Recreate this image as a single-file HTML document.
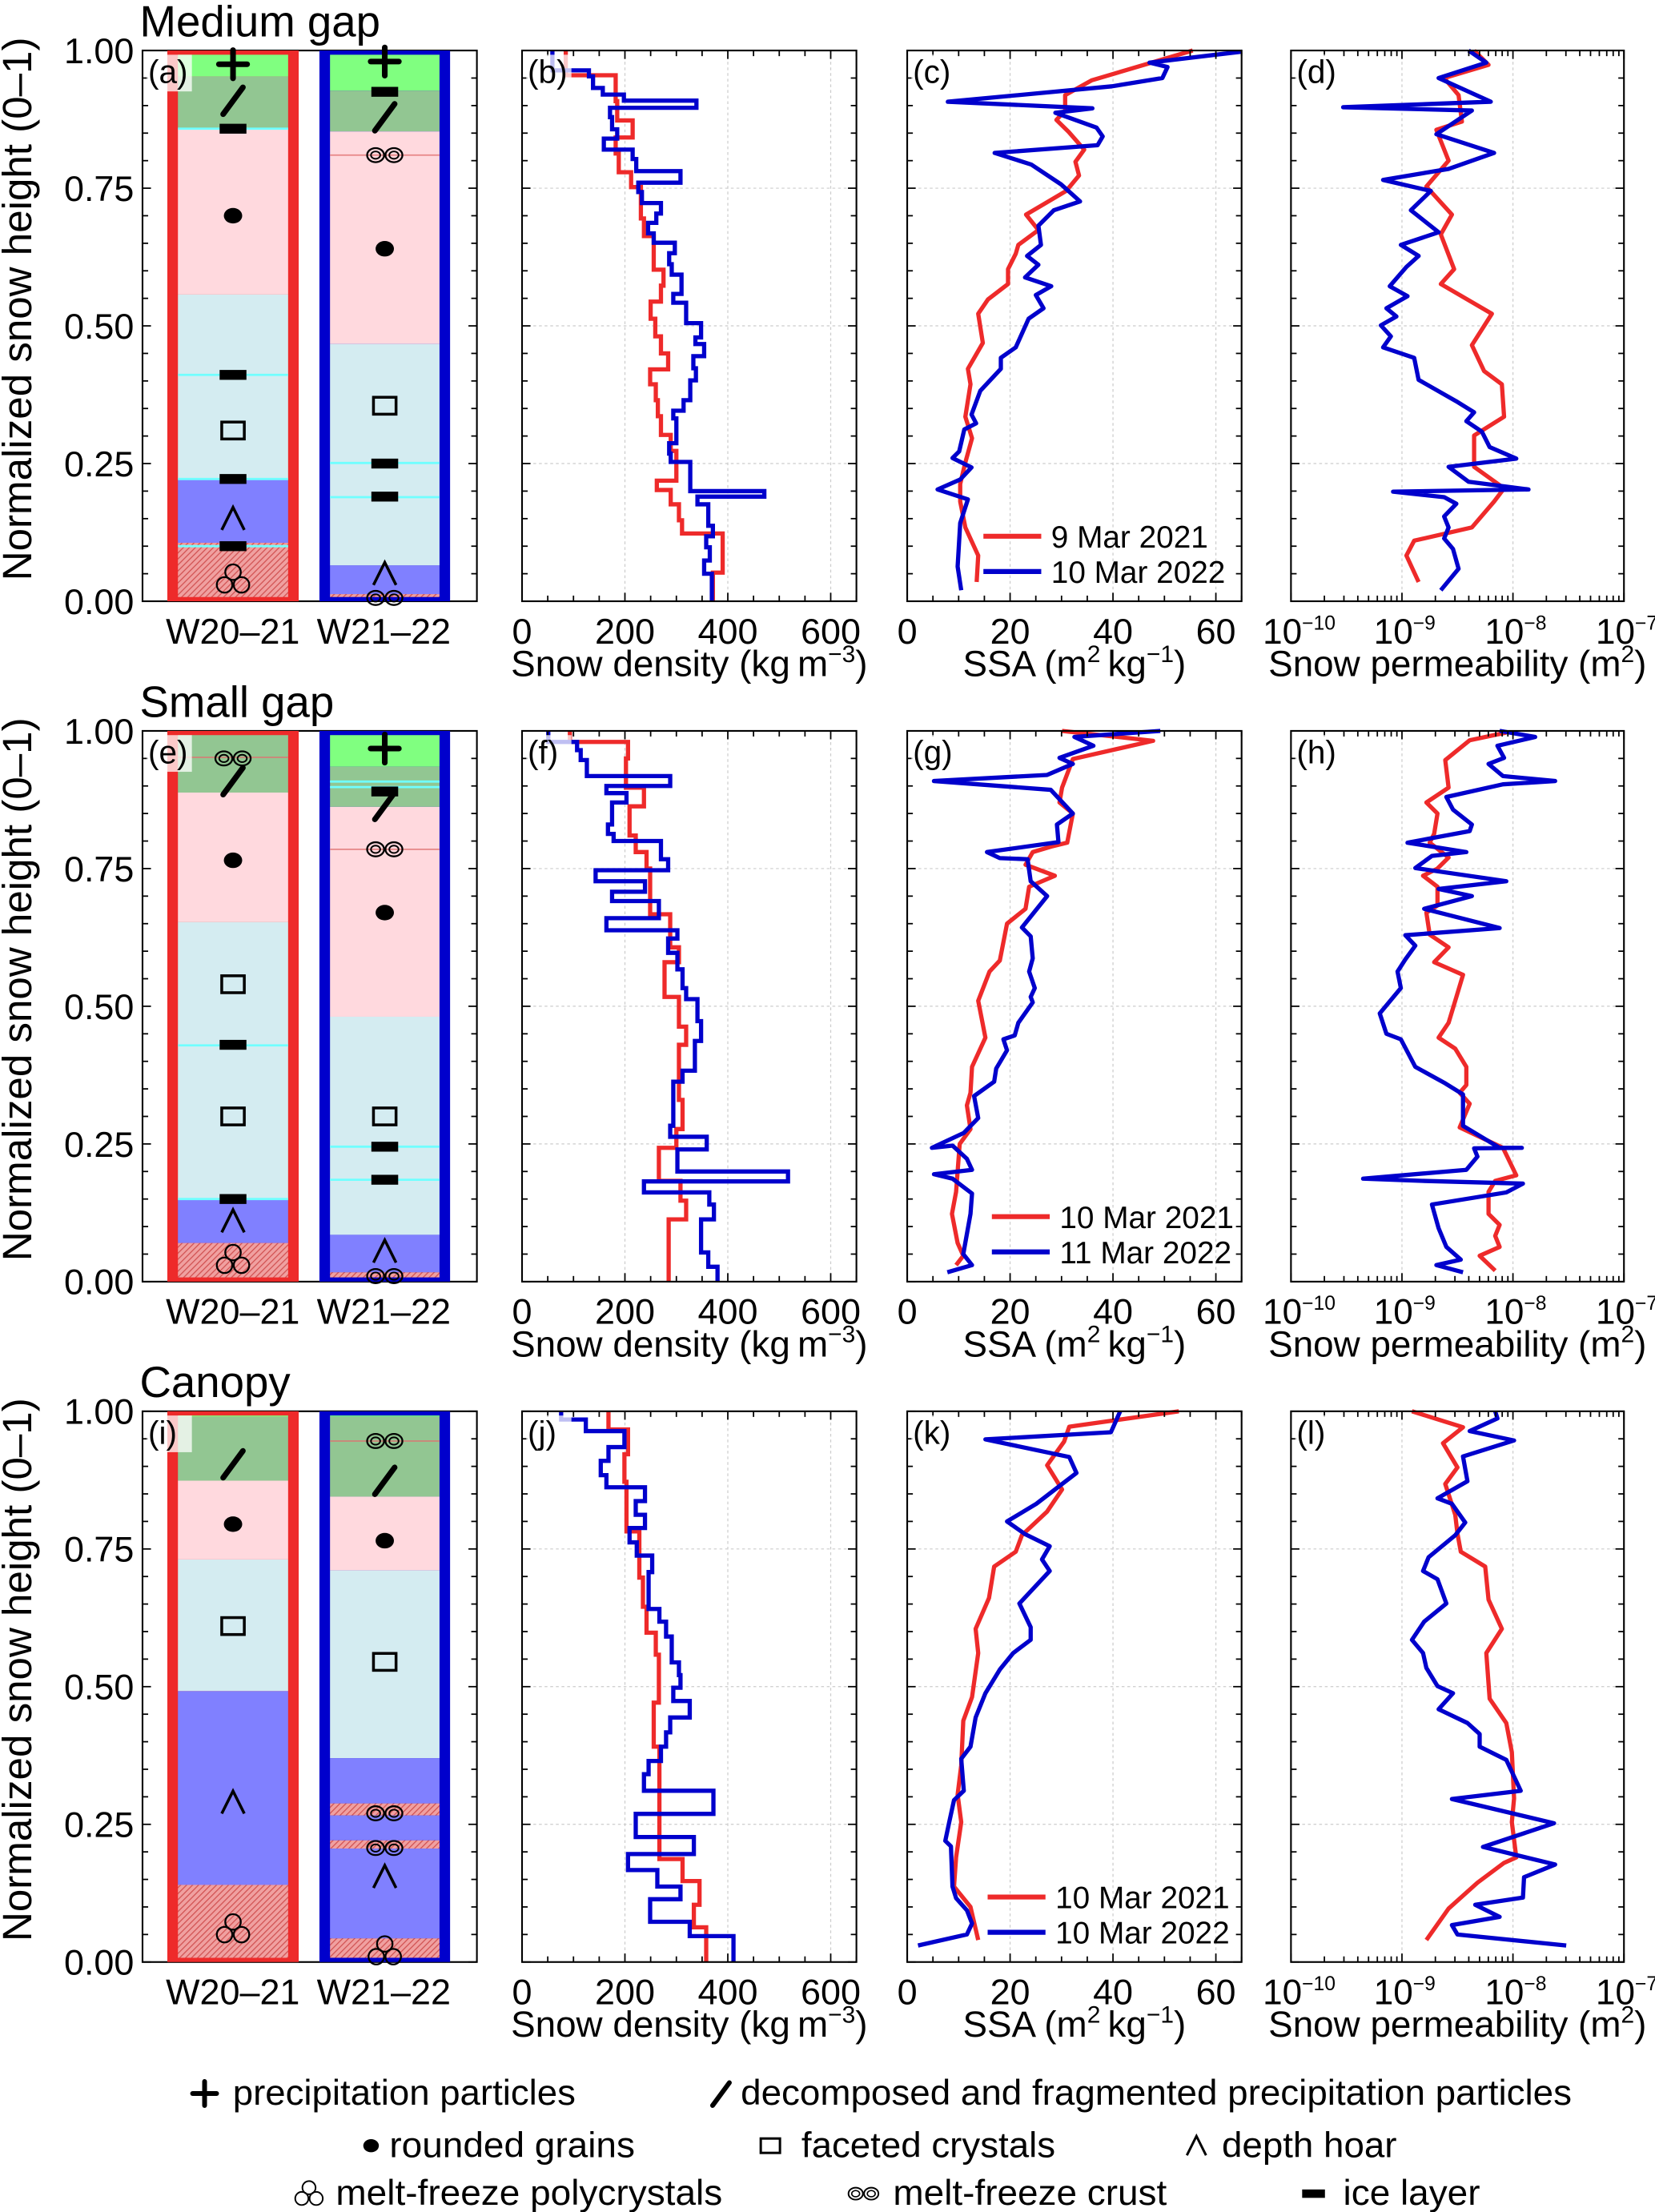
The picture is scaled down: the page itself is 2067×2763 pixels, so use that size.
<!DOCTYPE html>
<html><head><meta charset="utf-8"><title>Snow profiles</title>
<style>html,body{margin:0;padding:0;background:#fff}svg{display:block}text{font-family:"Liberation Sans",sans-serif;fill:#000}</style>
</head><body>
<svg id="fig" xmlns="http://www.w3.org/2000/svg" width="2067" height="2763" viewBox="0 0 1173 1568">
<defs>
<pattern id="hatch" width="3" height="3" patternUnits="userSpaceOnUse" patternTransform="rotate(45)">
<rect width="3" height="3" fill="#f0a0a0"/><line x1="0" y1="0" x2="0" y2="3" stroke="#d05050" stroke-width="1.4"/>
</pattern>
</defs>
</svg>
<script>
// ===== Data =====
const dens1RBounds=[1,.955,.908,.873,.842,.813,.779,.752,.695,.663,.602,.573,.544,.513,.481,.45,.421,.394,.365,.336,.302,.273,.219,.202,.176,.147,.123,.052,0];
const dens1RVals=[85,182,185,215,182,188,212,231,237,256,275,270,250,259,270,284,249,260,264,270,289,300,262,289,305,311,390,371];
const dens1BBounds=[1,.964,.953,.932,.920,.909,.896,.879,.857,.840,.820,.803,.781,.760,.743,.723,.704,.687,.668,.651,.632,.612,.593,.558,.542,.505,.479,.467,.445,.423,.401,.365,.346,.332,.287,.268,.253,.2,.19,.176,.137,.118,.098,.074,.05,0];
const dens1BVals=[59,130,138,157,198,339,171,175,185,159,215,222,308,226,233,270,261,245,256,297,286,291,310,294,319,348,337,354,333,338,327,314,294,300,286,289,327,471,341,362,371,358,365,354,369];
const dens2RBounds=[1,.98,.95,.897,.863,.81,.78,.75,.667,.607,.58,.517,.463,.43,.33,.277,.243,.183,.147,.113,0];
const dens2RVals=[93,206,202,237,209,221,242,249,288,305,277,305,319,305,312,300,266,308,319,285];
const dens2BBounds=[1,.98,.965,.947,.918,.9,.887,.87,.83,.813,.8,.767,.747,.727,.708,.691,.66,.638,.623,.597,.567,.533,.513,.473,.437,.383,.363,.283,.263,.24,.2,.182,.162,.14,.113,.053,.027,0];
const dens2BVals=[51,107,114,126,288,164,203,175,167,178,270,284,143,239,175,266,164,302,284,302,312,319,341,348,336,312,294,288,359,302,517,237,364,373,348,362,380];
const dens3RBounds=[1,.967,.922,.872,.782,.698,.645,.598,.558,.471,.391,.187,.147,.104,.063,0];
const dens3RVals=[168,206,199,203,228,235,242,260,266,256,267,312,345,334,358];
const dens3BBounds=[1,.985,.964,.935,.91,.884,.862,.837,.812,.788,.762,.738,.708,.641,.618,.591,.544,.521,.498,.474,.444,.417,.391,.365,.341,.311,.269,.227,.196,.167,.137,.114,.073,.047,0];
const dens3BVals=[76,124,199,168,153,164,239,221,239,209,223,253,246,267,280,291,305,308,294,326,288,280,270,246,237,372,221,334,206,263,308,249,326,411];

const ssa1RVals=[55.5,35.9,30.7,30.7,29,31.4,34.4,32.7,33.4,30.9,23.1,25.5,21.6,21.1,19.6,19.6,15.7,13.8,14.7,11.8,12.3,11.3,12.6,11.3,10.3,10.3,11.3,13.8,13.5];
const ssa1RH=[1,.946,.919,.891,.874,.852,.82,.798,.773,.745,.702,.674,.647,.631,.603,.576,.548,.522,.469,.422,.394,.335,.296,.252,.213,.181,.134,.083,.035];
const ssa1BVals=[65.1,47.1,50.6,49.6,39.8,7.9,36,28.8,36.8,38,37,17,24.1,29.9,33.6,28.5,25.5,26,23.3,25.5,22.9,28,25,26.5,23.6,21.1,18.2,18.2,14.2,12.5,13.4,11.1,10.1,8.8,12.5,10.3,5.9,11.8,10.3,9.8,10.5];
const ssa1BH=[.998,.978,.97,.95,.935,.907,.895,.887,.86,.844,.828,.814,.793,.757,.726,.71,.682,.647,.627,.611,.588,.572,.556,.532,.513,.461,.442,.422,.382,.339,.323,.312,.272,.26,.243,.221,.203,.185,.142,.063,.02];
const ssa2RVals=[30.1,47.8,32.2,30.1,29.6,32.2,31.1,28,24.4,23,28.7,23.7,23,19.4,18,16,13.8,15.2,12.6,12.3,11.6,12.3,10.2,9.5,8.7,9.8,10.9,9.5];
const ssa2RH=[1,.982,.949,.897,.87,.85,.797,.79,.78,.757,.737,.717,.677,.65,.583,.563,.51,.443,.39,.343,.32,.277,.25,.163,.123,.07,.047,.03];
const ssa2BVals=[49.2,32.5,36.2,29.6,32.2,27.2,5.2,27.9,32.2,29.1,29.4,15.5,18,23.4,24,27.2,22.3,24,24.4,23.7,24.8,24,24.4,21.6,20.9,18.7,19.4,17.3,16.9,13,13.8,11,4.8,8.8,11.6,12.6,5.2,8.8,12.6,12.3,10.9,12.6,7.8];
const ssa2BH=[1,.989,.973,.951,.94,.92,.909,.893,.85,.83,.798,.78,.769,.767,.727,.7,.643,.627,.587,.563,.533,.517,.507,.47,.447,.44,.42,.387,.363,.337,.297,.27,.243,.247,.223,.203,.195,.187,.16,.123,.05,.03,.017];
const ssa3RVals=[52.8,31.5,30.5,27.2,30.1,27.2,22.3,21.1,16.9,15.9,13.3,13.8,12.6,10.9,10.5,9.8,10.5,9.5,9.1,12.3,13.8];
const ssa3RH=[1,.972,.945,.902,.858,.818,.775,.745,.718,.661,.605,.561,.481,.438,.357,.304,.254,.19,.137,.1,.04];
const ssa3BVals=[41.4,39.6,15.2,31.5,32.9,25.1,19.4,22.9,27.7,26.2,27.7,21.8,24,24,20.6,18,15.2,13.3,12.3,10.5,11,9.1,8.1,7.4,8.5,8.8,9.5,11.6,12.6,11.6,2.1];
const ssa3BH=[1,.962,.949,.917,.888,.832,.8,.777,.755,.731,.71,.651,.608,.585,.561,.531,.488,.444,.391,.369,.311,.294,.251,.22,.21,.137,.116,.094,.07,.05,.03];

const perm1RLog=[-8.35,-8.22,-8.62,-8.49,-8.46,-8.69,-8.58,-8.78,-8.55,-8.65,-8.53,-8.65,-8.19,-8.37,-8.26,-8.10,-8.08,-8.35,-8.35,-8.08,-8.17,-8.37,-8.89,-8.96,-8.85];
const perm1RH=[1,.974,.95,.919,.871,.856,.8,.753,.702,.666,.603,.576,.522,.465,.418,.394,.335,.301,.244,.205,.181,.134,.11,.083,.035];
const perm1BLog=[-8.40,-8.24,-8.67,-8.20,-9.53,-8.37,-8.69,-8.17,-8.58,-9.17,-8.74,-8.92,-8.67,-9.01,-8.85,-8.96,-9.11,-8.95,-9.14,-9.05,-9.19,-9.10,-9.17,-8.89,-8.85,-8.51,-8.35,-8.42,-8.28,-8.21,-7.97,-8.58,-8.40,-7.86,-9.08,-8.62,-8.51,-8.62,-8.58,-8.62,-8.54,-8.49,-8.65];
const perm1BH=[1,.978,.95,.907,.897,.891,.848,.814,.785,.765,.745,.71,.67,.647,.627,.607,.572,.554,.532,.517,.501,.481,.461,.442,.402,.363,.343,.327,.308,.28,.259,.244,.217,.203,.199,.189,.177,.154,.134,.114,.095,.059,.02];
const perm2RLog=[-8.06,-8.39,-8.61,-8.58,-8.78,-8.68,-8.71,-8.75,-8.58,-8.68,-8.81,-8.68,-8.68,-8.78,-8.75,-8.58,-8.71,-8.45,-8.52,-8.58,-8.67,-8.52,-8.42,-8.42,-8.48,-8.39,-8.48,-8.09,-7.97,-8.16,-8.22,-8.22,-8.12,-8.16,-8.12,-8.3,-8.16];
const perm2RH=[.997,.983,.947,.897,.87,.85,.813,.797,.77,.75,.737,.717,.683,.67,.63,.607,.58,.557,.51,.47,.443,.423,.39,.357,.343,.323,.28,.243,.193,.183,.163,.123,.103,.083,.063,.047,.02];
const perm2BLog=[-8.12,-7.8,-8.14,-8.08,-8.22,-8.09,-7.62,-8.09,-8.6,-8.54,-8.37,-8.39,-8.95,-8.42,-8.73,-8.88,-8.06,-8.67,-8.37,-8.8,-8.12,-8.97,-8.88,-8.97,-9.04,-9.01,-9.2,-9.14,-9.01,-8.88,-8.61,-8.45,-8.45,-8.12,-7.92,-8.35,-8.32,-8.42,-9.35,-8.82,-7.91,-8.06,-8.73,-8.67,-8.6,-8.47,-8.69,-8.45];
const perm2BH=[1,.989,.973,.951,.94,.918,.909,.903,.88,.857,.83,.818,.797,.78,.773,.751,.727,.713,.7,.677,.642,.629,.61,.585,.563,.533,.487,.45,.44,.39,.36,.34,.283,.243,.243,.242,.227,.203,.187,.183,.178,.162,.14,.097,.063,.04,.03,.017];
const perm3RLog=[-8.91,-8.45,-8.63,-8.5,-8.61,-8.52,-8.5,-8.47,-8.25,-8.22,-8.1,-8.24,-8.21,-8.06,-8.01,-7.99,-8.01,-7.97,-8.08,-8.32,-8.58,-8.78];
const perm3RH=[1,.971,.942,.898,.868,.812,.778,.745,.718,.658,.605,.561,.478,.434,.381,.297,.254,.19,.18,.144,.097,.04];
const perm3BLog=[-8.16,-8.14,-8.39,-7.99,-8.45,-8.41,-8.68,-8.55,-8.43,-8.52,-8.76,-8.81,-8.68,-8.6,-8.8,-8.91,-8.81,-8.78,-8.68,-8.54,-8.67,-8.41,-8.3,-8.3,-8.06,-7.93,-8.55,-7.63,-8.27,-7.62,-7.9,-7.91,-8.34,-8.12,-8.55,-8.5,-7.52];
const perm3BH=[1,.987,.964,.947,.918,.873,.842,.832,.798,.775,.735,.71,.695,.651,.618,.585,.561,.534,.501,.488,.459,.434,.414,.391,.367,.311,.296,.252,.209,.177,.154,.117,.104,.082,.067,.05,.03];

const strat1RBounds=[1,.953,.858,.557,.222,.106,0];
const strat1RTypes=['g','d','p','f','h','m'];
const strat1BBounds=[1,.927,.853,.467,.065,.013,0];
const strat1BTypes=['g','d','p','f','h','m'];
const strat2RBounds=[1,.888,.653,.15,.07,0];
const strat2RTypes=['d','p','f','h','m'];
const strat2BBounds=[1,.935,.862,.481,.085,.017,0];
const strat2BTypes=['g','d','p','f','h','m'];
const strat3RBounds=[1,.99,.874,.731,.492,.14,0];
const strat3RTypes=['g','d','p','f','h','m'];
const strat3BBounds=[1,.99,.845,.711,.37,.288,.266,.221,.206,.043,0];
const strat3BTypes=['g','d','p','f','h','m','h','m','h','m'];
const lines1RH=[.858,.411,.222,.1]; const lines1RK=['c','c','c','c'];
const lines1BH=[.81,.251,.189]; const lines1BK=['r','c','c'];
const lines2RH=[.952,.429,.15]; const lines2RK=['r','c','c'];
const lines2BH=[.908,.898,.785,.245,.185]; const lines2BK=['c','c','r','c','c'];
const lines3RH=[]; const lines3RK=[];
const lines3BH=[.946]; const lines3BK=['r'];
const sym1RH=[.975,.91,.858,.70,.411,.31,.222,.15,.10,.04]; const sym1RK=['plus','slash','ice','dot','ice','sq','ice','caret','ice','poly'];
const sym1BH=[.98,.925,.88,.81,.64,.355,.25,.19,.05,.006]; const sym1BK=['plus','ice','slash','crust','dot','sq','ice','ice','caret','crust'];
const sym2RH=[.95,.91,.765,.54,.43,.30,.15,.11,.04]; const sym2RK=['crust','slash','dot','sq','ice','sq','ice','caret','poly'];
const sym2BH=[.968,.89,.865,.785,.67,.30,.245,.185,.055,.01]; const sym2BK=['plus','ice','slash','crust','dot','sq','ice','ice','caret','crust'];
const sym3RH=[.905,.795,.61,.29,.06]; const sym3RK=['slash','dot','sq','caret','poly'];
const sym3BH=[.946,.875,.765,.545,.27,.207,.155,.02]; const sym3BK=['crust','slash','dot','sq','crust','crust','caret','poly'];

const densTicks=['0','200','400','600']; const densTickVals=[0,200,400,600];
const ssaTicks=['0','20','40','60']; const ssaTickVals=[0,20,40,60];
const permTickExp=['\u221210','\u22129','\u22128','\u22127']; const permTickVals=[-10,-9,-8,-7];
const yTickLabels=['1.00','0.75','0.50','0.25','0.00']; const yTickVals=[1,.75,.5,.25,0];
const rowTitles=['Medium gap','Small gap','Canopy'];
const legendDates=[['9 Mar 2021','10 Mar 2022'],['10 Mar 2021','11 Mar 2022'],['10 Mar 2021','10 Mar 2022']];
const panelLetters=[['a','b','c','d'],['e','f','g','h'],['i','j','k','l']];

// ===== Layout =====
const NS='http://www.w3.org/2000/svg';
const svg=document.getElementById('fig');
const RED='#ee2a2a', BLUE='#0000cc';
const H=390.4;
const rowTop=r=>35.8+482.3*r;
const PX={a:[101,338],b:[370,607],c:[643,880],d:[915,1151]};
const yS=(h,r)=>rowTop(r)+(1-h)*H;
const xLin=(p,min,max)=>v=>PX[p][0]+(v-min)/(max-min)*(PX[p][1]-PX[p][0]);
const xD=xLin('b',0,650), xS=xLin('c',0,65), xP=xLin('d',-10,-7);
const fills={g:'#80ff80',d:'#92c692',p:'#ffd9de',f:'#d4ecf1',h:'#8080ff',m:'url(#hatch)'};

function mk(tag,attrs,parent){const e=document.createElementNS(NS,tag);for(const k in attrs)e.setAttribute(k,attrs[k]);(parent||svg).appendChild(e);return e;}
function txt(s,x,y,size,anchor,parent){const t=mk('text',{x:x,y:y,'font-size':size,'text-anchor':anchor||'start'},parent);t.textContent=s;return t;}

function frame(p,r,g){
  const x0=PX[p][0],x1=PX[p][1],y0=rowTop(r);
  const f=mk('rect',{x:x0,y:y0,width:x1-x0,height:H,fill:'none',stroke:'#000','stroke-width':1.2},g);
  
  
  for(let i=0;i<=20;i++){const h=i*0.05,y=yS(h,r),L=(i%5===0)?6:4;
    mk('line',{x1:x0,y1:y,x2:x0+L,y2:y,stroke:'#000','stroke-width':1},g);
    mk('line',{x1:x1,y1:y,x2:x1-L,y2:y,stroke:'#000','stroke-width':1},g);}
}
function hgrid(p,r,g){
  [.25,.5,.75].forEach(h=>mk('line',{x1:PX[p][0],x2:PX[p][1],y1:yS(h,r),y2:yS(h,r),stroke:'#ccc','stroke-width':.7,'stroke-dasharray':'2,2'},g));
}
function vgrid(xs,vals,r,g){
  vals.forEach(v=>{const x=xs(v);mk('line',{x1:x,x2:x,y1:rowTop(r),y2:rowTop(r)+H,stroke:'#ccc','stroke-width':.7,'stroke-dasharray':'2,2'},g);});
}
function xticks(xs,vals,major,r,g){
  const y0=rowTop(r),y1=y0+H;
  vals.forEach(v=>{const x=xs(v),L=major(v)?6:4;
    mk('line',{x1:x,x2:x,y1:y1,y2:y1-L,stroke:'#000','stroke-width':1},g);
    mk('line',{x1:x,x2:x,y1:y0,y2:y0+L,stroke:'#000','stroke-width':1},g);});
}
function stepPath(bounds,vals,r){
  let d='';
  for(let i=0;i<vals.length;i++){const x=xD(vals[i]).toFixed(2);
    d+=(i===0?'M':'L')+x+','+yS(bounds[i],r).toFixed(2)+'L'+x+','+yS(bounds[i+1],r).toFixed(2);}
  return d;
}
function linePath(xs,vals,hs,r){return vals.map((v,i)=>(i?'L':'M')+xs(v).toFixed(2)+','+yS(hs[i],r).toFixed(2)).join('');}

function symbol(kind,cx,cy,g){
  if(kind==='plus'){mk('line',{x1:cx-10,y1:cy,x2:cx+10,y2:cy,stroke:'#000','stroke-width':4,'stroke-linecap':'round'},g);mk('line',{x1:cx,y1:cy-10,x2:cx,y2:cy+10,stroke:'#000','stroke-width':4,'stroke-linecap':'round'},g);}
  else if(kind==='slash'){mk('line',{x1:cx-7,y1:cy+10,x2:cx+7,y2:cy-9,stroke:'#000','stroke-width':4,'stroke-linecap':'round'},g);}
  else if(kind==='ice'){mk('rect',{x:cx-9.5,y:cy-3.5,width:19,height:7,fill:'#000'},g);}
  else if(kind==='dot'){mk('ellipse',{cx:cx,cy:cy,rx:6.5,ry:5.5,fill:'#000'},g);}
  else if(kind==='sq'){mk('rect',{x:cx-8,y:cy-6,width:16,height:12,fill:'none',stroke:'#000','stroke-width':2},g);}
  else if(kind==='caret'){mk('polyline',{points:(cx-8)+','+(cy+8)+' '+cx+','+(cy-8)+' '+(cx+8)+','+(cy+8),fill:'none',stroke:'#000','stroke-width':2},g);}
  else if(kind==='poly'){[[0,-5],[-6,4],[6,4]].forEach(o=>mk('circle',{cx:cx+o[0],cy:cy+o[1],r:5.5,fill:'none',stroke:'#000','stroke-width':1.3},g));}
  else if(kind==='crust'){[-6.5,6.5].forEach(o=>{mk('ellipse',{cx:cx+o,cy:cy,rx:6,ry:5,fill:'none',stroke:'#000','stroke-width':1.3},g);mk('ellipse',{cx:cx+o,cy:cy,rx:3.3,ry:2.6,fill:'none',stroke:'#000','stroke-width':1.1},g);});}
}

function stratCol(x0,x1,color,bounds,types,lh,lk,sh,sk,r,g,name){
  const cg=mk('g',{},g);
  
  
  const y0=rowTop(r),inset=7.5;
  mk('rect',{x:x0,y:y0,width:x1-x0,height:H,fill:color},cg);
  const ix0=x0+inset,ix1=x1-inset;
  for(let i=0;i<types.length;i++){
    const ya=Math.max(yS(bounds[i],r),y0+3),yb=Math.min(yS(bounds[i+1],r),y0+H-3);
    mk('rect',{x:ix0,y:ya,width:ix1-ix0,height:Math.max(0.5,yb-ya),fill:fills[types[i]]},cg);
  }
  lh.forEach((h,i)=>{const y=yS(h,r);mk('line',{x1:ix0,x2:ix1,y1:y,y2:y,stroke:lk[i]==='c'?'#70ffff':'#e07070','stroke-width':lk[i]==='c'?1.6:1,'stroke-opacity':lk[i]==='c'?1:.8},cg);});
  const cx=(x0+x1)/2;
  sh.forEach((h,i)=>symbol(sk[i],cx,yS(h,r),cg));
}

const densB=[[dens1RBounds,dens1RVals,dens1BBounds,dens1BVals],[dens2RBounds,dens2RVals,dens2BBounds,dens2BVals],[dens3RBounds,dens3RVals,dens3BBounds,dens3BVals]];
const ssaD=[[ssa1RVals,ssa1RH,ssa1BVals,ssa1BH],[ssa2RVals,ssa2RH,ssa2BVals,ssa2BH],[ssa3RVals,ssa3RH,ssa3BVals,ssa3BH]];
const permD=[[perm1RLog,perm1RH,perm1BLog,perm1BH],[perm2RLog,perm2RH,perm2BLog,perm2BH],[perm3RLog,perm3RH,perm3BLog,perm3BH]];
const stratD=[[strat1RBounds,strat1RTypes,lines1RH,lines1RK,sym1RH,sym1RK,strat1BBounds,strat1BTypes,lines1BH,lines1BK,sym1BH,sym1BK],
[strat2RBounds,strat2RTypes,lines2RH,lines2RK,sym2RH,sym2RK,strat2BBounds,strat2BTypes,lines2BH,lines2BK,sym2BH,sym2BK],
[strat3RBounds,strat3RTypes,lines3RH,lines3RK,sym3RH,sym3RK,strat3BBounds,strat3BTypes,lines3BH,lines3BK,sym3BH,sym3BK]];

const minorD=[];for(let v=0;v<=650;v+=50)minorD.push(v);
const minorS=[];for(let v=0;v<=65;v+=5)minorS.push(v);
const minorP=[];for(let e=-10;e<-7;e++)for(let k=1;k<10;k++)minorP.push(e+Math.log10(k));minorP.push(-7);

function label(letter,p,r,g){
  const x=PX[p][0]+3,y=rowTop(r)+3;
  const bg=mk('rect',{x:x,y:y,width:32,height:26,fill:'#fff','fill-opacity':.75},g);
  
  
  const t=txt('('+letter+')',x+1,y+20,23,'start',g);
  
  
}

for(let r=0;r<3;r++){
  const row=mk('g',{});
  
  
  const yb=rowTop(r)+H;
  const tt=txt(rowTitles[r],99,rowTop(r)-10,31,'start',row);
  
  
  yTickVals.forEach((v,i)=>{const t=txt(yTickLabels[i],95,yS(v,r)+9,25.5,'end',row);
    
    });
  const yt=txt('Normalized snow height (0\u20131)',0,0,29,'middle',row);
  yt.setAttribute('transform','translate(22,'+(rowTop(r)+H/2-12)+') rotate(-90)');
  
  
  const ga=mk('g',{},row);
  
  
  const S=stratD[r];
  frame('a',r,ga);
  stratCol(118.6,211.7,RED,S[0],S[1],S[2],S[3],S[4],S[5],r,ga,'column-w20-21');
  stratCol(226.4,319,BLUE,S[6],S[7],S[8],S[9],S[10],S[11],r,ga,'column-w21-22');
  label(panelLetters[r][0],'a',r,ga);
  const w1=txt('W20\u201321',165,yb+30,25.5,'middle',ga);
  
  
  const w2=txt('W21\u201322',272,yb+30,25.5,'middle',ga);
  
  

  const gb=mk('g',{},row);
  
  
  vgrid(xD,densTickVals.slice(1),r,gb);hgrid('b',r,gb);
  const D=densB[r];
  const dr=mk('path',{d:stepPath(D[0],D[1],r),fill:'none',stroke:RED,'stroke-width':3},gb);
  
  
  const db=mk('path',{d:stepPath(D[2],D[3],r),fill:'none',stroke:BLUE,'stroke-width':3},gb);
  
  
  frame('b',r,gb);xticks(xD,minorD,v=>v%200===0,r,gb);
  label(panelLetters[r][1],'b',r,gb);
  densTickVals.forEach((v,i)=>{const t=txt(densTicks[i],xD(v),yb+30,25.5,'middle',gb);
    
    });
  const dt=mk('text',{x:(PX.b[0]+PX.b[1])/2,y:yb+53,'font-size':26,'text-anchor':'middle'},gb);
  dt.innerHTML='Snow density (kg\u2009m<tspan dy="-10" font-size="17">\u22123</tspan><tspan dy="10">)</tspan>';
  
  

  const gc=mk('g',{},row);
  
  
  vgrid(xS,ssaTickVals.slice(1),r,gc);hgrid('c',r,gc);
  const Q=ssaD[r];
  const sr=mk('path',{d:linePath(xS,Q[0],Q[1],r),fill:'none',stroke:RED,'stroke-width':3,'stroke-linejoin':'round'},gc);
  
  
  const sb=mk('path',{d:linePath(xS,Q[2],Q[3],r),fill:'none',stroke:BLUE,'stroke-width':3,'stroke-linejoin':'round'},gc);
  
  
  frame('c',r,gc);xticks(xS,minorS,v=>v%20===0,r,gc);
  label(panelLetters[r][2],'c',r,gc);
  ssaTickVals.forEach((v,i)=>{const t=txt(ssaTicks[i],xS(v),yb+30,25.5,'middle',gc);
    
    });
  const st=mk('text',{x:(PX.c[0]+PX.c[1])/2,y:yb+53,'font-size':26,'text-anchor':'middle'},gc);
  st.innerHTML='SSA (m<tspan dy="-10" font-size="17">2</tspan><tspan dy="10">\u2009kg</tspan><tspan dy="-10" font-size="17">\u22121</tspan><tspan dy="10">)</tspan>';
  
  
  const lg=mk('g',{},gc);
  
  
  const lx=[697,703,700][r], ly=yS(0.118,r);
  [[RED,0],[BLUE,1]].forEach(([c,i])=>{
    const ln=mk('line',{x1:lx,x2:lx+41,y1:ly+i*25,y2:ly+i*25,stroke:c,'stroke-width':3.5},lg);
    
    
    const t=txt(legendDates[r][i],lx+48,ly+i*25+8,22,'start',lg);
    
    
  });

  const gd=mk('g',{},row);
  
  
  vgrid(xP,[-9,-8],r,gd);hgrid('d',r,gd);
  const P=permD[r];
  const pr=mk('path',{d:linePath(xP,P[0],P[1],r),fill:'none',stroke:RED,'stroke-width':3,'stroke-linejoin':'round'},gd);
  
  
  const pb=mk('path',{d:linePath(xP,P[2],P[3],r),fill:'none',stroke:BLUE,'stroke-width':3,'stroke-linejoin':'round'},gd);
  
  
  frame('d',r,gd);xticks(xP,minorP,v=>Math.abs(v-Math.round(v))<1e-6,r,gd);
  label(panelLetters[r][3],'d',r,gd);
  permTickVals.forEach((v,i)=>{const t=mk('text',{x:xP(v)-20,y:yb+30,'font-size':25,'text-anchor':'start'},gd);
    t.innerHTML='10<tspan dy="-10" font-size="14">'+permTickExp[i]+'</tspan>';
    
    });
  const pt=mk('text',{x:(PX.d[0]+PX.d[1])/2,y:yb+53,'font-size':26,'text-anchor':'middle'},gd);
  pt.innerHTML='Snow permeability (m<tspan dy="-10" font-size="17">2</tspan><tspan dy="10">)</tspan>';
  
  
}

const legendItems=[
 ['plus',145,1484,'precipitation particles',165,243],
 ['slash',511,1484,'decomposed and fragmented precipitation particles',525,589],
 ['dot',263,1521,'rounded grains',276,174],
 ['sq',546,1521,'faceted crystals',568,180],
 ['caret',848,1521,'depth hoar',866,124],
 ['poly',219,1555,'melt-freeze polycrystals',238,274],
 ['crust',612,1555,'melt-freeze crust',633,194],
 ['ice',931,1555,'ice layer',952,97]];
const leg=mk('g',{});


legendItems.forEach(it=>{
  const g=mk('g',{},leg);
  
  
  const sc=mk('g',{transform:'translate('+it[1]+','+it[2]+') scale(0.85) translate('+(-it[1])+','+(-it[2])+')'},g);
  symbol(it[0],it[1],it[2],sc);
  const t=txt(it[3],it[4],it[2]+8,25,'start',g);
  t.setAttribute('textLength',it[5]);
  t.setAttribute('lengthAdjust','spacingAndGlyphs');
});
</script>
</body></html>
